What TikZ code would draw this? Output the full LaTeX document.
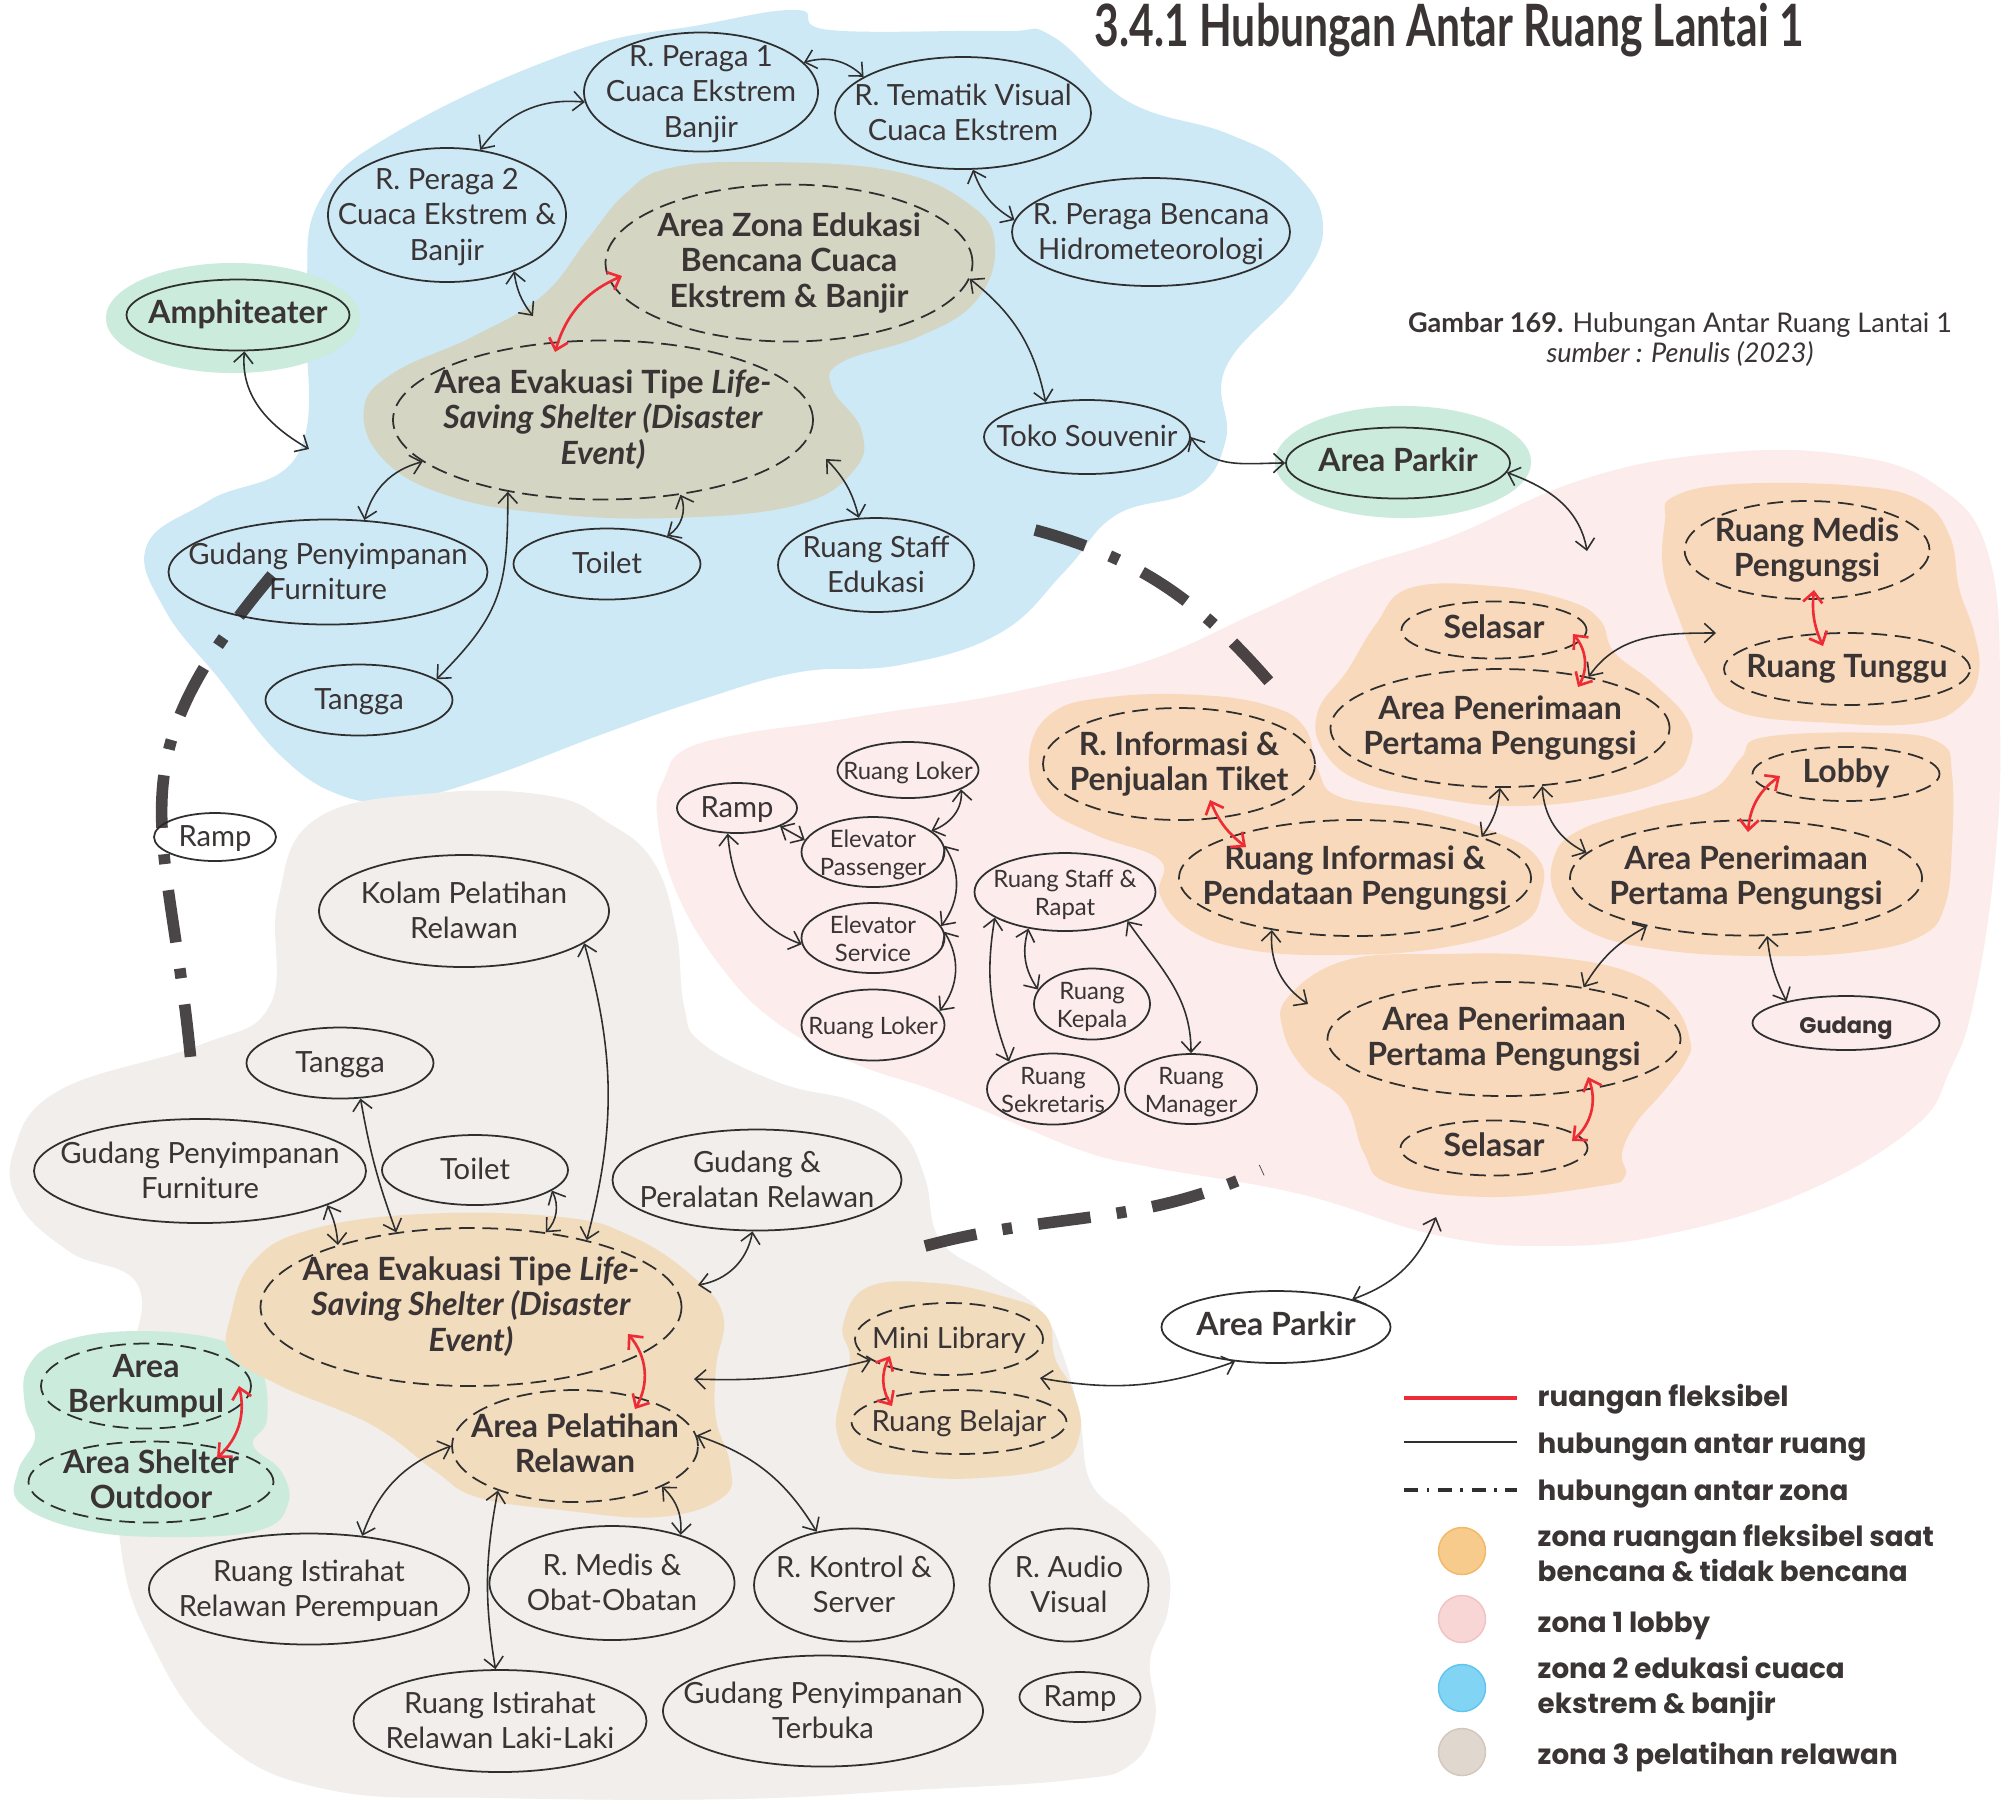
\documentclass[tikz,border=0pt]{standalone}
\usepackage{fontspec}
\setmainfont{Lato}
\newfontfamily\legendfont{Poppins}
\newfontfamily\titlefont{Lato}[FakeStretch=0.73]
\usetikzlibrary{shapes.geometric,arrows.meta,calc}
\definecolor{zoneblue}{HTML}{CDE9F6}
\definecolor{zonepink}{HTML}{FCECEC}
\definecolor{zonegrey}{HTML}{F1EEEB}
\definecolor{zonegreen}{HTML}{CBEBDD}
\definecolor{flexpink}{HTML}{F8D9BB}
\definecolor{flexgrey}{HTML}{F2DCBE}
\definecolor{flexblue}{HTML}{D5D5C3}
\definecolor{ink}{HTML}{3A3435}
\definecolor{linec}{HTML}{2F2F2F}
\definecolor{flexred}{HTML}{EE2C35}
\definecolor{zonedash}{HTML}{2B2526}
\definecolor{legorange}{HTML}{F7CB8C}
\definecolor{legorangeedge}{HTML}{F2B866}
\definecolor{legpink}{HTML}{F9D6D6}
\definecolor{legpinkedge}{HTML}{F2C2C2}
\definecolor{legblue}{HTML}{82D4F5}
\definecolor{legblueedge}{HTML}{5EC6EE}
\definecolor{leggrey}{HTML}{E0D7CF}
\definecolor{leggreyedge}{HTML}{D2C7BD}
\newcommand\rtext[1]{\makebox[0pt]{\smash{\raisebox{-2.8pt}{\begin{tabular}{@{}c@{}}#1\end{tabular}}}}}
\tikzset{
  >={Straight Barb[length=3pt,width=5.5pt]},
  room/.style={ellipse, draw=linec, line width=.5pt, inner sep=0pt, text=ink, font=\fontsize{8.3}{10.1}\selectfont},
  roomb/.style={room, font=\fontsize{9.1}{10}\selectfont\bfseries},
  flexroom/.style={roomb, dash pattern=on 4.5pt off 2.2pt},
  flexplain/.style={room, dash pattern=on 4.5pt off 2.2pt},
  smallroom/.style={room, font=\fontsize{6.8}{8.1}\selectfont},
  sz/.style 2 args={minimum width=#1*0.01cm, minimum height=#2*0.01cm},
  rel/.style={<->, draw=linec, line width=.45pt},
  flexrel/.style={<->, draw=flexred, line width=.75pt},
  zonerel/.style={draw=zonedash, draw opacity=.85, line width=3.3pt, dash pattern=on 15pt off 7.5pt on 2.8pt off 7.5pt},
  legtext/.style={inner sep=0pt, text=ink, align=left, font=\legendfont\fontsize{7.9}{9.9}\selectfont\bfseries},
  legdot/.style={circle, inner sep=0pt, minimum size=0.47cm, line width=.4pt},
}

\begin{document}
\begin{tikzpicture}[x=0.01cm,y=-0.01cm]
\useasboundingbox (0,0) rectangle (2012,1802);
\fill[white] (0,0) rectangle (2012,1802);
\fill[zoneblue] plot[smooth cycle, tension=.7] coordinates {(574,51) (700,25) (797,10) (830,30) (1000,31) (1052,36) (1129,102) (1226,133) (1290,168) (1323,224) (1297,286) (1226,367) (1226,439) (1194,490) (1116,515) (1065,571) (1000,633) (900,665) (800,672) (700,700) (600,735) (480,780) (400,800) (340,795) (280,755) (220,680) (165,610) (147,545) (210,500) (300,450) (306,300) (320,200) (400,130)};
\fill[zonepink] plot[smooth cycle, tension=.7] coordinates {(657,815) (665,777) (684,750) (741,734) (818,723) (894,711) (971,700) (1050,684) (1150,660) (1258,612) (1350,570) (1452,536) (1581,480) (1710,454) (1839,454) (1936,485) (1990,560) (2000,720) (1995,860) (1974,1000) (1950,1070) (1913,1128) (1800,1194) (1663,1235) (1545,1246) (1436,1235) (1300,1194) (1150,1167) (1086,1152) (1009,1121) (933,1090) (856,1064) (780,1025) (722,968) (676,891)};
\fill[zonegrey] plot[smooth cycle, tension=.7] coordinates {(316,819) (435,793) (550,796) (607,822) (653,861) (676,930) (684,1006) (703,1044) (780,1083) (856,1102) (902,1132) (925,1178) (940,1240) (990,1275) (1040,1310) (1064,1358) (1080,1420) (1091,1483) (1130,1520) (1165,1560) (1168,1610) (1150,1660) (1155,1720) (1130,1765) (1070,1780) (912,1790) (734,1799) (500,1798) (330,1790) (220,1740) (150,1640) (120,1540) (120,1400) (140,1290) (70,1252) (20,1205) (14,1150) (60,1090) (200,1045) (270,1005) (278,900)};
\fill[zonegreen] (233,318) ellipse [x radius=1.27cm, y radius=.55cm];
\fill[zonegreen] (1403,462) ellipse [x radius=1.28cm, y radius=.56cm];
\fill[zonegreen] plot[smooth cycle, tension=.7] coordinates {(28,1367) (63,1341) (140,1331) (224,1341) (260,1367) (267,1419) (253,1445) (281,1471) (288,1504) (260,1530) (175,1537) (84,1530) (21,1504) (18,1471) (35,1438) (25,1406)};
\fill[flexblue] plot[smooth cycle, tension=.7] coordinates {(670,168) (765,162) (893,171) (969,204) (995,245) (976,301) (918,337) (842,362) (832,388) (861,429) (855,469) (797,505) (670,518) (542,513) (446,495) (383,459) (364,408) (395,372) (472,337) (542,296) (587,240) (625,194)};
\fill[flexpink] plot[smooth cycle, tension=.7] coordinates {(1410,588) (1493,586) (1566,600) (1600,620) (1614,652) (1653,683) (1687,719) (1690,750) (1668,778) (1600,798) (1512,806) (1435,798) (1362,782) (1323,750) (1318,711) (1347,671) (1376,624)};
\fill[flexpink] plot[smooth cycle, tension=.7] coordinates {(1673,497) (1736,484) (1857,486) (1921,501) (1950,537) (1959,588) (1974,632) (1979,671) (1964,703) (1921,723) (1833,723) (1736,711) (1702,671) (1678,616) (1663,569) (1665,521)};
\fill[flexpink] plot[smooth cycle, tension=.7] coordinates {(1765,737) (1882,733) (1940,743) (1952,774) (1952,845) (1945,905) (1921,936) (1857,952) (1760,956) (1663,950) (1590,932) (1556,897) (1554,857) (1580,830) (1648,808) (1712,790) (1741,758)};
\fill[flexpink] plot[smooth cycle, tension=.7] coordinates {(1029,757) (1052,713) (1110,697) (1200,695) (1270,706) (1305,728) (1318,770) (1340,797) (1420,810) (1495,832) (1537,857) (1542,890) (1520,925) (1440,948) (1340,955) (1250,950) (1190,930) (1160,895) (1160,860) (1096,835) (1045,805)};
\fill[flexpink] plot[smooth cycle, tension=.7] coordinates {(1289,996) (1347,960) (1444,954) (1542,956) (1629,972) (1673,1004) (1690,1040) (1686,1061) (1663,1092) (1636,1123) (1622,1153) (1625,1176) (1600,1186) (1491,1197) (1391,1184) (1364,1153) (1345,1102) (1305,1070) (1283,1030)};
\fill[flexgrey] plot[smooth cycle, tension=.7] coordinates {(231,1315) (253,1262) (309,1230) (421,1214) (561,1217) (631,1236) (691,1275) (723,1315) (716,1367) (716,1419) (730,1464) (723,1497) (659,1517) (561,1510) (477,1497) (435,1471) (372,1425) (281,1386) (231,1354)};
\fill[flexgrey] plot[smooth cycle, tension=.7] coordinates {(868,1287) (935,1283) (1002,1296) (1046,1316) (1055,1358) (1073,1391) (1080,1433) (1055,1466) (979,1478) (913,1476) (859,1466) (837,1433) (841,1395) (850,1358) (843,1325)};

\node[anchor=base west, inner sep=0pt, text=ink, font=\titlefont\fontsize{16.6}{18}\selectfont\bfseries] (TTL) at (1094,46) {3.4.1 Hubungan Antar Ruang Lantai 1};
\node[anchor=north, inner sep=0pt, align=center, text=ink, font=\fontsize{7.7}{8.5}\selectfont] (CAP) at (1680,312) {\textbf{Gambar 169.} Hubungan Antar Ruang Lantai 1\\\textit{sumber : Penulis (2023)}};

\node[room, sz={234}{119}] (PG1) at (701,92) {\rtext{R. Peraga 1\\Cuaca Ekstrem\\Banjir}};
\node[room, sz={256}{112}] (TEM) at (963,113) {\rtext{R. Tematik Visual\\Cuaca Ekstrem}};
\node[room, sz={238}{134}] (PG2) at (447,215) {\rtext{R. Peraga 2\\Cuaca Ekstrem \&\\Banjir}};
\node[room, sz={278}{108}] (PGH) at (1151,232) {\rtext{R. Peraga Bencana\\Hidrometeorologi}};
\node[flexroom, sz={367}{157}] (EDU) at (789,263) {\rtext{Area Zona Edukasi\\Bencana Cuaca\\Ekstrem \& Banjir}};
\node[roomb, sz={223}{71}] (AMP) at (238,315) {\rtext{Amphiteater}};
\node[flexroom, sz={420}{159}] (EVA) at (603,420) {\rtext{Area Evakuasi Tipe \textit{Life-}\\\textit{Saving Shelter (Disaster}\\\textit{Event)}}};
\node[room, sz={206}{74}] (TKS) at (1087,437) {\rtext{Toko Souvenir}};
\node[roomb, sz={224}{71}] (APA) at (1398,463) {\rtext{Area Parkir}};
\node[room, sz={319}{105}] (GPF) at (328,572) {\rtext{Gudang Penyimpanan\\Furniture}};
\node[room, sz={187}{71}] (TLA) at (607,564) {\rtext{Toilet}};
\node[room, sz={196}{94}] (RSE) at (876,565) {\rtext{Ruang Staff\\Edukasi}};
\node[room, sz={187}{71}] (TGA) at (359,700) {\rtext{Tangga}};

\node[flexroom, sz={245}{98}] (RMP) at (1807,550) {\rtext{Ruang Medis\\Pengungsi}};
\node[flexroom, sz={246}{72}] (RTG) at (1847,669) {\rtext{Ruang Tunggu}};
\node[flexroom, sz={185}{57}] (SL1) at (1494,630) {\rtext{Selasar}};
\node[flexroom, sz={339}{118}] (AP1) at (1500,728) {\rtext{Area Penerimaan\\Pertama Pengungsi}};
\node[flexroom, sz={187}{54}] (LBY) at (1846,774) {\rtext{Lobby}};
\node[flexroom, sz={352}{115}] (AP2) at (1746,878) {\rtext{Area Penerimaan\\Pertama Pengungsi}};
\node[flexroom, sz={272}{112}] (RIT) at (1179,764) {\rtext{R. Informasi \&\\Penjualan Tiket}};
\node[flexroom, sz={352}{116}] (RIP) at (1355,878) {\rtext{Ruang Informasi \&\\Pendataan Pengungsi}};
\node[room, sz={187}{54}, font=\legendfont\fontsize{6.4}{8}\selectfont\bfseries] (GDG) at (1846,1023) {\rtext{Gudang}};
\node[flexroom, sz={353}{114}] (AP3) at (1504,1039) {\rtext{Area Penerimaan\\Pertama Pengungsi}};
\node[flexroom, sz={187}{55}] (SL2) at (1494,1148) {\rtext{Selasar}};
\node[smallroom, sz={141}{56}] (LK1) at (908,770) {\rtext{Ruang Loker}};
\node[room, sz={120}{50}] (RMA) at (737,808) {\rtext{Ramp}};
\node[smallroom, sz={143}{70}] (ELP) at (873,852) {\rtext{Elevator\\Passenger}};
\node[smallroom, sz={143}{70}] (ELS) at (873,938) {\rtext{Elevator\\Service}};
\node[smallroom, sz={143}{71}] (LK2) at (873,1025) {\rtext{Ruang Loker}};
\node[smallroom, sz={181}{78}] (RSR) at (1065,892) {\rtext{Ruang Staff \&\\Rapat}};
\node[smallroom, sz={116}{71}] (RKP) at (1092,1004) {\rtext{Ruang\\Kepala}};
\node[smallroom, sz={132}{71}] (RSK) at (1053,1089) {\rtext{Ruang\\Sekretaris}};
\node[smallroom, sz={132}{70}] (RMG) at (1191,1089) {\rtext{Ruang\\Manager}};

\node[room, sz={122}{48}] (RMB) at (215,837) {\rtext{Ramp}};
\node[room, sz={290}{112}] (KLM) at (464,911) {\rtext{Kolam Pelatihan\\Relawan}};
\node[room, sz={187}{71}] (TGB) at (340,1063) {\rtext{Tangga}};
\node[room, sz={332}{104}] (GPB) at (200,1171) {\rtext{Gudang Penyimpanan\\Furniture}};
\node[room, sz={186}{70}] (TLB) at (475,1170) {\rtext{Toilet}};
\node[room, sz={289}{101}] (GPR) at (757,1180) {\rtext{Gudang \&\\Peralatan Relawan}};
\node[flexroom, sz={421}{158}] (EVB) at (471,1307) {\rtext{Area Evakuasi Tipe \textit{Life-}\\\textit{Saving Shelter (Disaster}\\\textit{Event)}}};
\node[flexroom, sz={246}{112}] (APL) at (575,1446) {\rtext{Area Pelatihan\\Relawan}};
\node[flexroom, sz={210}{85}] (ABK) at (146,1386) {\rtext{Area\\Berkumpul}};
\node[flexroom, sz={245}{81}] (ASH) at (151,1482) {\rtext{Area Shelter\\Outdoor}};
\node[flexplain, sz={188}{72}] (MLB) at (949,1339) {\rtext{Mini Library}};
\node[flexplain, sz={215}{64}] (RBL) at (959,1422) {\rtext{Ruang Belajar}};
\node[roomb, sz={229}{72}] (APB) at (1276,1327) {\rtext{Area Parkir}};
\node[room, sz={320}{111}] (RIW) at (309,1589) {\rtext{Ruang Istirahat\\Relawan Perempuan}};
\node[room, sz={245}{114}] (RMO) at (612,1583) {\rtext{R. Medis \&\\Obat-Obatan}};
\node[room, sz={200}{113}] (RKS) at (854,1585) {\rtext{R. Kontrol \&\\Server}};
\node[room, sz={159}{113}] (RAV) at (1069,1585) {\rtext{R. Audio\\Visual}};
\node[room, sz={293}{102}] (RIL) at (500,1721) {\rtext{Ruang Istirahat\\Relawan Laki-Laki}};
\node[room, sz={320}{111}] (GPT) at (823,1711) {\rtext{Gudang Penyimpanan\\Terbuka}};
\node[room, sz={121}{50}] (RMC) at (1080,1697) {\rtext{Ramp}};

\coordinate (AMZ) at (309,449);
\coordinate (PKA) at (1587,551);
\coordinate (PKB) at (1436,1217);
\coordinate (ZA1) at (272,575);
\coordinate (ZA2) at (192,1073);
\coordinate (ZB1) at (1035,530);
\coordinate (ZB2) at (1284,699);
\coordinate (ZC1) at (925,1246);
\coordinate (ZC2) at (1262,1170);

\draw[rel] (PG1.16) to[bend left=30] (TEM.160);
\draw[rel] (PG2.63) to[bend left=30] (PG1.185);
\draw[rel] (PG2.-40) to[bend right=15] ($(EVA)+(-70,-104)$);
\draw[flexrel] ($(EVA)+(-48,-68)$) to[bend left=25] ($(EDU)+(-167,13)$);
\draw[rel] (AMP.-80) to[out=-95, in=150] (AMZ);
\draw[rel] (GPF.55) to[bend left=30] (EVA.-167);
\draw[rel] (EVA.-143) to[out=-90, in=45, looseness=1.2] (TGA.15);
\draw[rel] (EVA.-44) to[bend left=40] (TLA.25);
\draw[rel] ($(EVA)+(223,39)$) to[bend left=15] (RSE.110);
\draw[rel] (EDU.-5) to[bend left=20] (TKS.140);
\draw[rel] (TEM.-80) to[bend right=20] (PGH.175);
\draw[rel] (TKS.east) to[out=-60, in=180] (APA.180);
\draw[rel] (APA.-5) to[out=-20, in=100] (PKA);

\draw[flexrel] ($(SL1)+(79,4)$) to[bend left=35] ($(AP1)+(78,-41)$);
\draw[rel] (AP1.30) to[out=55, in=180] ($(RTG)+(-131,-36)$);
\draw[flexrel] ($(RMP)+(7,40)$) to[bend right=15] ($(RTG)+(-24,-23)$);
\draw[rel] (AP1.-90) to[bend left=15] (RIP.18);
\draw[rel] (AP1.-54) to[bend right=30] (AP2.171);
\draw[flexrel] ($(LBY)+(-66,2)$) to[bend right=25] ($(AP2)+(2,-46)$);
\draw[rel] (AP2.-70) to[bend right=10] (GDG.160);
\draw[rel] (AP2.-154) to[bend right=15] (AP3.33);
\draw[flexrel] ($(AP3)+(84,38)$) to[bend left=35] ($(SL2)+(78,-7)$);
\draw[rel] (RIP.-148) to[bend right=30] ($(AP3)+(-196,-35)$);
\draw[flexrel] ($(RIT)+(31,36)$) to[bend right=15] ($(RIP)+(-109,-31)$);
\draw[rel] (RMA.-23) -- (ELP.170);
\draw[rel] (RMA.-110) to[out=-85, in=160] (ELS.185);
\draw[rel] (LK1.-20) to[out=-85, in=20] (ELP.20);
\draw[rel] (ELP.5) to[bend left=35] (ELS.10);
\draw[rel] (ELS.5) to[bend left=35] (LK2.12);
\draw[rel] (RSR.-160) to[bend right=15] (RSK.148);
\draw[rel] (RSR.-135) to[bend right=25] (RKP.165);
\draw[rel] (RSR.-25) to[out=-55, in=90] (RMG.90);

\draw[rel] (TGB.-60) to[bend right=5] (EVB.135);
\draw[rel] (GPB.-15) to[bend left=10] (EVB.155);
\draw[rel] (TLB.-15) to[bend left=35] (EVB.45);
\draw[rel] (KLM.-15) to[bend left=15] (EVB.30);
\draw[rel] (GPR.-95) to[bend left=35] ($(EVB)+(227,-22)$);
\draw[flexrel] ($(EVB)+(157,27)$) to[bend left=35] ($(APL)+(60,-37)$);
\draw[rel] ($(EVB)+(223,72)$) to[bend right=8] (MLB.-165);
\draw[rel] ($(MLB)+(91,39)$) to[bend right=15] (APB.-140);
\draw[rel] (APB.20) to[bend right=25] (PKB);
\draw[flexrel] ($(MLB)+(-59,17)$) to[bend right=30] ($(RBL)+(-67,-16)$);
\draw[flexrel] ($(ABK)+(93,0)$) to[bend left=30] ($(ASH)+(66,-24)$);
\draw[rel] (APL.180) to[bend right=25] (RIW.45);
\draw[rel] (APL.-25) to[bend left=25] (RMO.35);
\draw[rel] (APL.5) to[bend left=20] (RKS.125);
\draw[rel] (APL.-150) to[bend right=10] (RIL.95);

\draw[zonerel] (ZA1) to[out=-130, in=95, looseness=1.3] (ZA2);
\draw[zonerel] (ZB1) to[out=-15, in=130] (ZB2);
\draw[zonerel] (ZC1) to[out=15, in=-155] (ZC2);

\coordinate (LR1) at (1404,1398);
\coordinate (LR2) at (1517,1398);
\coordinate (LB1) at (1404,1442);
\coordinate (LB2) at (1517,1442);
\coordinate (LZ1) at (1404,1490);
\coordinate (LZ2) at (1517,1490);
\draw[flexred, line width=.9pt] (LR1) -- (LR2);
\draw[linec, line width=.8pt] (LB1) -- (LB2);
\draw[linec, line width=.9pt, dash pattern=on 4pt off 2.4pt on .8pt off 2.4pt] (LZ1) -- (LZ2);
\node[legdot, fill=legorange, draw=legorangeedge] (LD1) at (1462,1551) {};
\node[legdot, fill=legpink, draw=legpinkedge] (LD2) at (1462,1619) {};
\node[legdot, fill=legblue, draw=legblueedge] (LD3) at (1462,1688) {};
\node[legdot, fill=leggrey, draw=leggreyedge] (LD4) at (1462,1752) {};
\node[legtext, anchor=base west] (LT1) at (1537,1406) {ruangan fleksibel};
\node[legtext, anchor=base west] (LT2) at (1537,1453) {hubungan antar ruang};
\node[legtext, anchor=base west] (LT3) at (1537,1500) {hubungan antar zona};
\node[legtext, anchor=north west] (LT4) at (1537,1524) {zona ruangan fleksibel saat\\bencana \& tidak bencana};
\node[legtext, anchor=base west] (LT5) at (1537,1632) {zona 1 lobby};
\node[legtext, anchor=north west] (LT6) at (1537,1656) {zona 2 edukasi cuaca\\ekstrem \& banjir};
\node[legtext, anchor=base west] (LT7) at (1537,1764) {zona 3 pelatihan relawan};
\end{tikzpicture}
\end{document}
